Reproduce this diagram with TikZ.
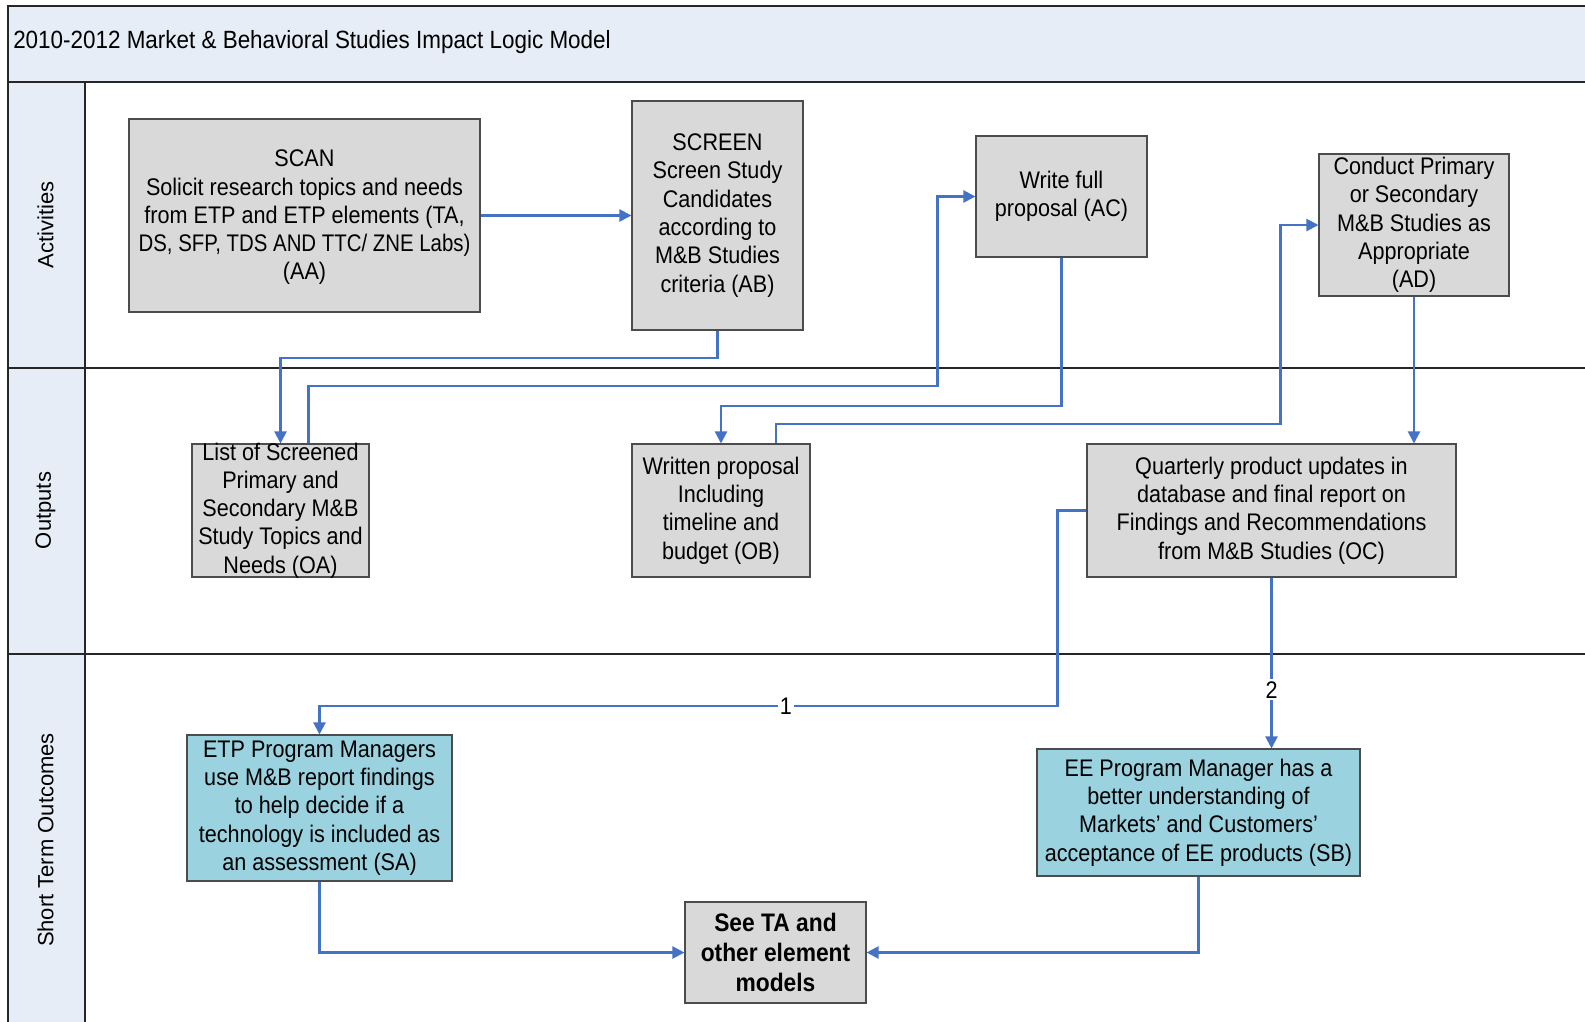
\documentclass[tikz,border=0pt]{standalone}
\usepackage{fontspec}
\setmainfont{Liberation Sans}
\newfontfamily\narrowfont[FakeStretch=0.9]{Liberation Sans}
\newfontfamily\tightfont[FakeStretch=0.85]{Liberation Sans}
\usetikzlibrary{arrows.meta,calc}
\definecolor{lanefill}{RGB}{230,237,247}
\definecolor{boxgray}{RGB}{217,217,217}
\definecolor{boxteal}{RGB}{155,210,223}
\definecolor{flowblue}{RGB}{68,114,196}

\begin{document}
\begin{tikzpicture}[x=0.75pt,y=-0.75pt,
  box/.style={draw=black!70, line width=0.8pt, fill=boxgray, align=center,
    inner sep=1pt, font=\narrowfont\fontsize{18}{21.2}\selectfont},
  outcome/.style={box, fill=boxteal},
  boxtext/.style={align=center, inner sep=0pt, font=\narrowfont\fontsize{18}{21.2}\selectfont},
  sz/.style 2 args={minimum width=#1*0.75pt, minimum height=#2*0.75pt},
  conn/.style={draw=flowblue, line width=1.6pt, line join=miter,
    -{Triangle[length=9pt,width=9pt]}},
  lbl/.style={fill=white, inner sep=1.5pt, font=\narrowfont\fontsize{18}{20}\selectfont},
  lanetitle/.style={rotate=90, inner sep=0pt, font=\fontsize{16.5}{19}\selectfont},
  laneline/.style={draw=black!85, line width=1pt}]

\useasboundingbox (0,0) rectangle (1585,1021);

% swimlane frame
\fill[lanefill] (8,6) rectangle (1600,82);
\fill[lanefill] (8,82) rectangle (85,1030);
\draw[laneline] (1600,6) -- (8,6) -- (8,1030);
\draw[laneline] (8,82) -- (1600,82);
\draw[laneline] (85,82) -- (85,1030);
\draw[laneline] (8,368) -- (1600,368);
\draw[laneline] (8,654) -- (1600,654);

\node[anchor=west, inner sep=0pt, font=\narrowfont\fontsize{18.7}{21}\selectfont] (title) at (13,42.5)
  {2010-2012 Market \& Behavioral Studies Impact Logic Model};

\node[lanetitle] (laneA) at (45.5,225) {Activities};
\node[lanetitle] (laneO) at (45.5,510.5) {Outputs};
\node[lanetitle] (laneS) at (45.5,840) {Short Term Outcomes};

% activities
\node[box, sz={351}{193}] (AA) at (304.5,215.5) {};
\node[boxtext] (AAtext) at ($(AA.center)+(0,2)$)
  {SCAN\\Solicit research topics and needs\\from ETP and ETP elements (TA,\\{\tightfont DS, SFP, TDS AND TTC/ ZNE Labs)}\\(AA)};
\node[box, sz={171}{229}] (AB) at (717.5,215.5)
  {SCREEN\\Screen Study\\Candidates\\according to\\M\&B Studies\\criteria (AB)};
\node[box, sz={171}{121}] (AC) at (1061.5,196.5)
  {Write full\\proposal (AC)};
\node[box, sz={190}{142}] (AD) at (1414,225)
  {Conduct Primary\\or Secondary\\M\&B Studies as\\Appropriate\\(AD)};

% outputs
\node[box, sz={177}{133}] (OA) at (280.5,510.5) {};
\node[boxtext] (OAtext) at (OA.center)
  {List of Screened\\Primary and\\Secondary M\&B\\Study Topics and\\Needs (OA)};
\node[box, sz={178}{133}] (OB) at (721,510.5)
  {Written proposal\\Including\\timeline and\\budget (OB)};
\node[box, sz={369}{133}] (OC) at (1271.5,510.5)
  {Quarterly product updates in\\database and final report on\\Findings and Recommendations\\from M\&B Studies (OC)};

% short term outcomes
\node[outcome, sz={265}{146}] (SA) at (319.5,808)
  {ETP Program Managers\\use M\&B report findings\\to help decide if a\\technology is included as\\an assessment (SA)};
\node[outcome, sz={323}{127}] (SB) at (1198.5,812.5)
  {EE Program Manager has a\\better understanding of\\Markets’ and Customers’\\acceptance of EE products (SB)};
\node[box, sz={181}{101}, font=\narrowfont\bfseries\fontsize{19}{22.7}\selectfont] (SEE) at (775.5,952.5)
  {See TA and\\other element\\models};

% bend levels
\coordinate (lvlAB) at (0,358);
\coordinate (lvlOA) at (0,386);
\coordinate (lvlAC) at (0,406);
\coordinate (lvlOB) at (0,424);
\coordinate (lvlOC) at (0,706);
\coordinate (colOA) at ($(OA.north)+(28,0)$);
\coordinate (colOB) at ($(OB.north)+(55,0)$);

% connectors
\draw[conn] (AA.east) -- (AB.west);
\draw[conn] (AB.south) -- (AB.south |- lvlAB) -| (OA.north);
\draw[conn] (colOA) -- (colOA |- lvlOA) -| ($(AC.west)+(-38,0)$) -- (AC.west);
\draw[conn] (AC.south) -- (AC.south |- lvlAC) -| (OB.north);
\draw[conn] (colOB) -- (colOB |- lvlOB) -| ($(AD.west)+(-38,0)$) -- (AD.west);
\draw[conn] (AD.south) -- (AD.south |- OC.north);
\draw[conn] (OC.west) -- ++(-29,0) coordinate (bendOC) -- (bendOC |- lvlOC)
  -- node[lbl, pos=0.368] {1} (SA.north |- lvlOC) -- (SA.north);
\draw[conn] (OC.south) -- node[lbl, pos=0.657] {2} (OC.south |- SB.north);
\draw[conn] (SA.south) |- (SEE.west);
\draw[conn] (SB.south) |- (SEE.east);

\end{tikzpicture}
\end{document}
